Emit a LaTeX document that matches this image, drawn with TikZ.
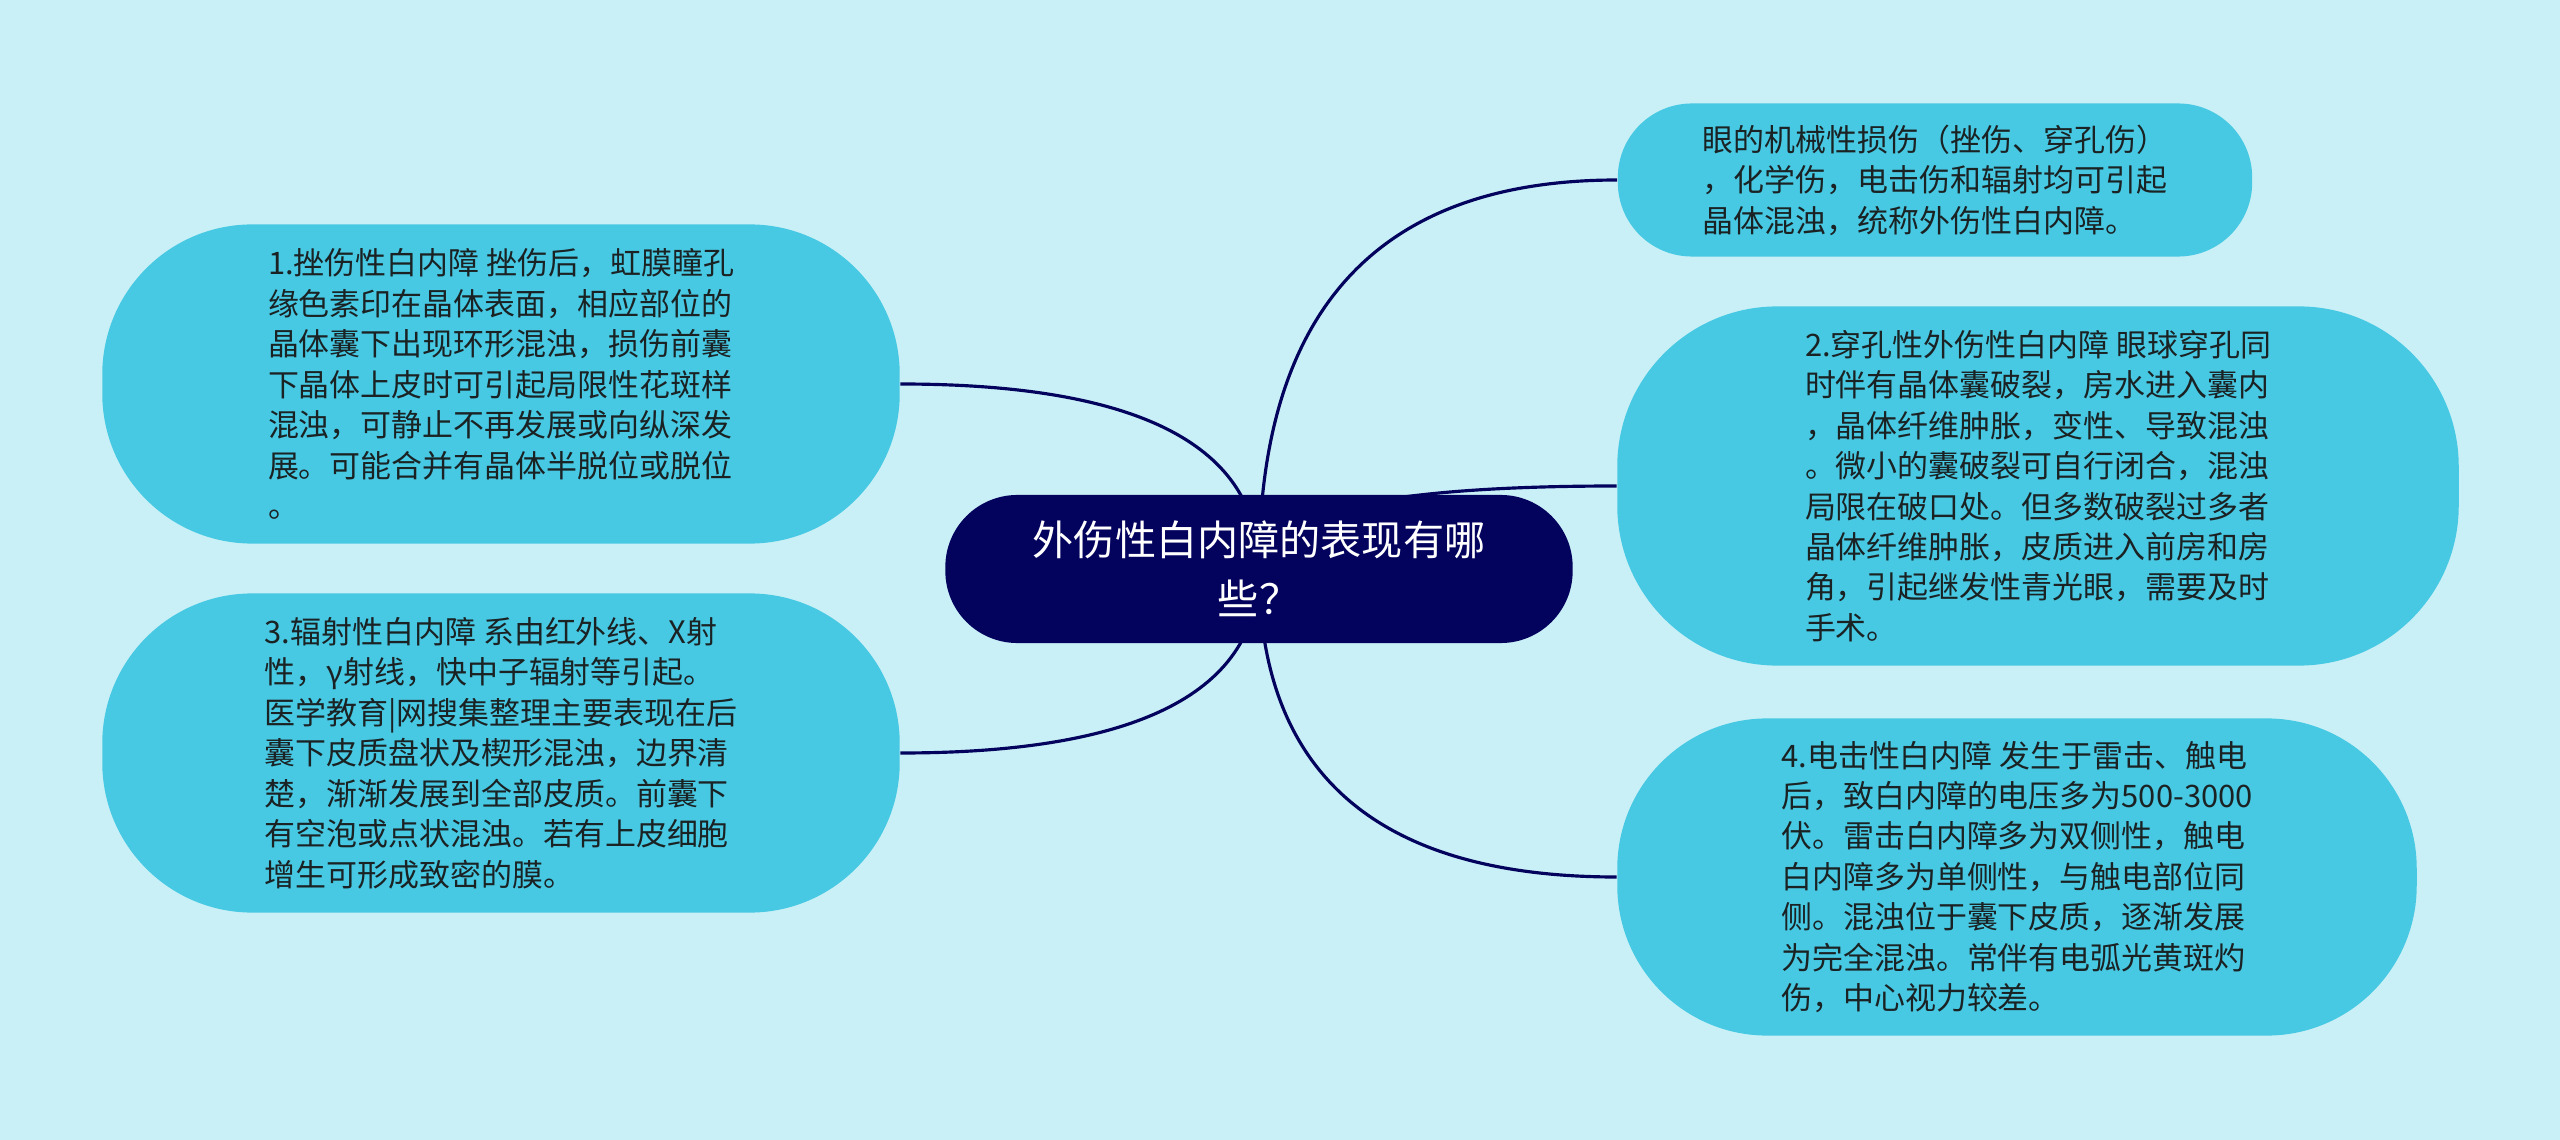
\documentclass[tikz,border=0pt]{standalone}
\usepackage{fontspec}
\setmainfont{Noto Sans CJK SC}
\usetikzlibrary{calc}
\definecolor{paper}{HTML}{C9F0F7}
\definecolor{bubble}{HTML}{48C9E3}
\definecolor{navy}{HTML}{03035E}
\definecolor{ink}{HTML}{1A2224}
\pgfdeclarelayer{back}
\pgfsetlayers{back,main}
\tikzset{
	topic/.style={fill=navy,text=white,rounded corners=0.72cm,minimum width=6.27cm,minimum height=1.48cm,align=center,inner sep=0pt,font=\fontsize{11.7}{16.8}\selectfont},
	leaf/.style={fill=bubble,text=ink,align=left,inner sep=0pt,font=\fontsize{8.8}{11.5}\selectfont},
	link/.style={navy,line width=0.9pt,
		to path={.. controls ($(\tikztostart)!2/3!(\tikztostart |- \tikztotarget)$) and ($(\tikztotarget)!2/3!(\tikztostart |- \tikztotarget)$) .. (\tikztotarget)}}
}
\begin{document}
\begin{tikzpicture}[x=0.01cm,y=-0.01cm]
			\node[topic] (root) at (1259,569) {外伤性白内障的表现有哪\\些？};
			% left side
			\node[leaf,rounded corners=1.5cm,minimum width=7.97cm,minimum height=3.19cm] (crush) at (501,384) {1.挫伤性白内障 挫伤后，虹膜瞳孔\\缘色素印在晶体表面，相应部位的\\晶体囊下出现环形混浊，损伤前囊\\下晶体上皮时可引起局限性花斑样\\混浊，可静止不再发展或向纵深发\\展。可能合并有晶体半脱位或脱位\\。};
			\node[leaf,rounded corners=1.5cm,minimum width=7.97cm,minimum height=3.19cm] (radiate) at (501,753) {3.辐射性白内障 系由红外线、X射\\性，γ射线，快中子辐射等引起。\\医学教育|网搜集整理主要表现在后\\囊下皮质盘状及楔形混浊，边界清\\楚，渐渐发展到全部皮质。前囊下\\有空泡或点状混浊。若有上皮细胞\\增生可形成致密的膜。};
			% right side
			\node[leaf,rounded corners=0.74cm,minimum width=6.34cm,minimum height=1.53cm] (cause) at (1935,180) {眼的机械性损伤（挫伤、穿孔伤）\\，化学伤，电击伤和辐射均可引起\\晶体混浊，统称外伤性白内障。};
			\node[leaf,rounded corners=1.6cm,minimum width=8.41cm,minimum height=3.59cm] (pierce) at (2038,486) {2.穿孔性外伤性白内障 眼球穿孔同\\时伴有晶体囊破裂，房水进入囊内\\，晶体纤维肿胀，变性、导致混浊\\。微小的囊破裂可自行闭合，混浊\\局限在破口处。但多数破裂过多者\\晶体纤维肿胀，皮质进入前房和房\\角，引起继发性青光眼，需要及时\\手术。};
			\node[leaf,rounded corners=1.5cm,minimum width=7.99cm,minimum height=3.17cm] (shock) at (2017,877) {4.电击性白内障 发生于雷击、触电\\后，致白内障的电压多为500-3000\\伏。雷击白内障多为双侧性，触电\\白内障多为单侧性，与触电部位同\\侧。混浊位于囊下皮质，逐渐发展\\为完全混浊。常伴有电弧光黄斑灼\\伤，中心视力较差。};
			\begin{pgfonlayer}{back}
				\fill[paper] (0,0) rectangle (2560,1140);
				\draw[link] (root.center) to (crush.east);
				\draw[link] (root.center) to (radiate.east);
				\draw[link] (root.center) to (cause.west);
				\draw[link] (root.center) to (pierce.west);
				\draw[link] (root.center) to (shock.west);
			\end{pgfonlayer}
\end{tikzpicture}
\end{document}
